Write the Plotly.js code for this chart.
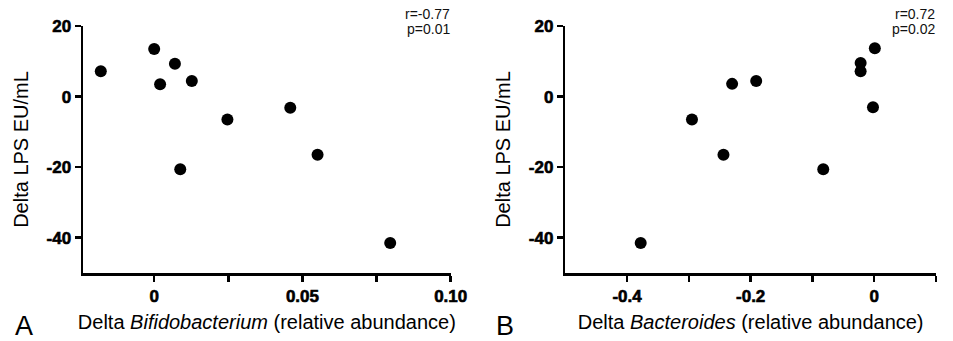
<!DOCTYPE html>
<html>
<head>
<meta charset="utf-8">
<script src="https://cdn.plot.ly/plotly-3.0.1.min.js"></script>
<style>
  html, body { margin: 0; padding: 0; background: #fff; }
  #chart { width: 953px; height: 341px; }
  #chart .xaxislayer-above text, #chart .yaxislayer-above text { stroke: #000; stroke-width: 0.6px; }
</style>
</head>
<body>
<div id="chart"></div>
<script>
// Panel A: Delta Bifidobacterium (relative abundance) vs Delta LPS (EU/mL)
const deltaBifido = [-0.018, 0.0, 0.002, 0.007, 0.0127, 0.0088, 0.0247, 0.0459, 0.0551, 0.0796];
const deltaLPS_A = [7.2, 13.5, 3.5, 9.3, 4.4, -20.6, -6.5, -3.2, -16.5, -41.5];

// Panel B: Delta Bacteroides (relative abundance) vs Delta LPS (EU/mL)
const deltaBacteroides = [-0.378, -0.295, -0.244, -0.230, -0.191, -0.0825, -0.022, -0.022, 0.001, -0.002];
const deltaLPS_B = [-41.5, -6.5, -16.5, 3.6, 4.4, -20.6, 9.5, 7.2, 13.7, -3.0];

// Tick labels
const yTickVals = [20, 0, -20, -40];
const yTickText = ["20", "0", "-20", "-40"];
const xA_TickVals = [0, 0.025, 0.05, 0.075, 0.10];
const xA_TickText = ["0", "", "0.05", "", "0.10"];
const xB_TickVals = [-0.4, -0.3, -0.2, -0.1, 0, 0.1];
const xB_TickText = ["-0.4", "", "-0.2", "", "0", ""];

// Stats labels
const statsA = ["r=-0.77", "p=0.01"];
const statsB = ["r=0.72", "p=0.02"];

const FONT = "Liberation Sans, Arial, Helvetica, sans-serif";
const W = 953, H = 341;
const px = v => v / W;
const py = v => 1 - v / H;

const marker = { size: 12, color: "#000" };

const traces = [
  { x: deltaBifido, y: deltaLPS_A, type: "scatter", mode: "markers", marker, xaxis: "x", yaxis: "y", cliponaxis: false },
  { x: deltaBacteroides, y: deltaLPS_B, type: "scatter", mode: "markers", marker, xaxis: "x2", yaxis: "y2", cliponaxis: false }
];

const axisCommon = {
  showgrid: false,
  zeroline: false,
  showline: true,
  linecolor: "#000",
  linewidth: 2.5,
  ticks: "outside",
  ticklen: 6,
  tickwidth: 2.5,
  tickcolor: "#000",
  tickfont: { family: FONT, size: 17, color: "#000", weight: "bold" },
  tickmode: "array",
  automargin: false,
  fixedrange: true
};

const titleFont = { family: FONT, size: 20, color: "#000" };
const yDomain = [py(273), py(26)];

const layout = {
  width: W, height: H,
  margin: { l: 0, r: 0, t: 0, b: 0 },
  paper_bgcolor: "#fff",
  plot_bgcolor: "#fff",
  showlegend: false,
  font: { family: FONT, color: "#000" },
  xaxis: Object.assign({}, axisCommon, {
    domain: [px(83), px(450.7)],
    range: [-0.024, 0.10],
    tickvals: xA_TickVals, ticktext: xA_TickText,
    anchor: "y",
    title: { text: "Delta <i>Bifidobacterium</i> (relative abundance)", font: titleFont, standoff: 10 }
  }),
  yaxis: Object.assign({}, axisCommon, {
    domain: yDomain,
    range: [-50, 20],
    tickvals: yTickVals, ticktext: yTickText,
    anchor: "x",
    title: { text: "Delta LPS EU/mL", font: titleFont, standoff: 13 }
  }),
  xaxis2: Object.assign({}, axisCommon, {
    domain: [px(565.3), px(936)],
    range: [-0.5, 0.1],
    tickvals: xB_TickVals, ticktext: xB_TickText,
    anchor: "y2",
    title: { text: "Delta <i>Bacteroides</i> (relative abundance)", font: titleFont, standoff: 10 }
  }),
  yaxis2: Object.assign({}, axisCommon, {
    domain: yDomain,
    range: [-50, 20],
    tickvals: yTickVals, ticktext: yTickText,
    anchor: "x2",
    title: { text: "Delta LPS EU/mL", font: titleFont, standoff: 13 }
  }),
  annotations: [
    { xref: "paper", yref: "paper", x: px(452), y: py(14), xanchor: "right", yanchor: "middle", text: statsA[0], showarrow: false, font: { family: FONT, size: 14, color: "#111" } },
    { xref: "paper", yref: "paper", x: px(452), y: py(29), xanchor: "right", yanchor: "middle", text: statsA[1], showarrow: false, font: { family: FONT, size: 14, color: "#111" } },
    { xref: "paper", yref: "paper", x: px(937), y: py(14), xanchor: "right", yanchor: "middle", text: statsB[0], showarrow: false, font: { family: FONT, size: 14, color: "#111" } },
    { xref: "paper", yref: "paper", x: px(937), y: py(29), xanchor: "right", yanchor: "middle", text: statsB[1], showarrow: false, font: { family: FONT, size: 14, color: "#111" } },
    { xref: "paper", yref: "paper", x: px(24), y: py(326), xanchor: "center", yanchor: "middle", text: "A", showarrow: false, font: { family: FONT, size: 27, color: "#000" } },
    { xref: "paper", yref: "paper", x: px(504.5), y: py(326), xanchor: "center", yanchor: "middle", text: "B", showarrow: false, font: { family: FONT, size: 27, color: "#000" } }
  ]
};

Plotly.newPlot("chart", traces, layout, { displayModeBar: false, staticPlot: true });
</script>
</body>
</html>
